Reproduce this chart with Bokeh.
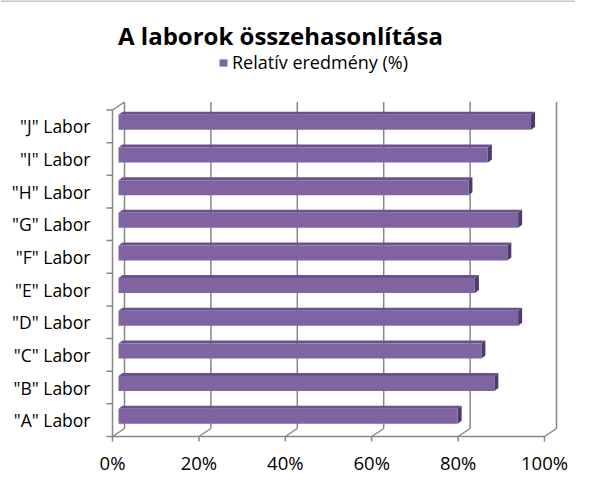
import numpy as np
from bokeh.plotting import figure
from bokeh.models import Range1d, Label, Legend, LegendItem
from bokeh.core.properties import value
from bokeh.embed import file_html
from bokeh.resources import INLINE

# ---------------- data ----------------
labs = ['"A" Labor', '"B" Labor', '"C" Labor', '"D" Labor', '"E" Labor',
        '"F" Labor', '"G" Labor', '"H" Labor', '"I" Labor', '"J" Labor']
vals = [78.5, 87.0, 84.0, 92.5, 82.5, 90.0, 92.5, 81.0, 85.5, 95.5]
x_ticks = [0, 20, 40, 60, 80, 100]
x_tick_labels = ["0%", "20%", "40%", "60%", "80%", "100%"]
title_text = "A laborok összehasonlítása"
series_name = "Relatív eredmény (%)"

# ---------------- layout ----------------
W, H = 575, 482
PX = 4.32          # px per percent
X0 = 112           # canvas px of front 0%
BAND = 32.65       # px per category band
Y0 = 46            # canvas px (from bottom) of front floor
FONT = "Open Sans"
GRAY = "#868686"
BAR = "#8064A2"
BAR_TOP = "#6A5290"
BAR_SIDE = "#4B3A6A"

DX, DY = 12 / PX, 8 / BAND          # full wall depth
MDX, MDY = 6 / PX, 4 / BAND         # bar depth position
CDX, CDY = 4 / PX, 3 / BAND         # bar thickness in depth
HALF = 7.5 / BAND

XMIN, XMAX = -X0 / PX, (W - X0) / PX
YMIN, YMAX = -Y0 / BAND, (H - Y0) / BAND

p = figure(width=W, height=H, output_backend="svg", toolbar_location=None,
           x_range=Range1d(XMIN, XMAX), y_range=Range1d(YMIN, YMAX),
           x_axis_type=None, y_axis_type=None, min_border=0)
p.grid.visible = False
p.outline_line_color = None
p.background_fill_color = "white"

n = len(labs)
ncat = np.arange(n)
xt = np.array(x_ticks, dtype=float)

# chart-area top border
p.segment(x0=[XMIN], y0=[YMAX - 0.5 / BAND], x1=[XMAX], y1=[YMAX - 0.5 / BAND],
          line_color="#8a8a8a", line_width=1.2)

# back wall verticals
p.segment(x0=xt + DX, y0=np.full(len(xt), DY), x1=xt + DX, y1=np.full(len(xt), n + DY),
          line_color=GRAY, line_width=1.5)
# floor diagonals
p.segment(x0=xt, y0=np.zeros(len(xt)), x1=xt + DX, y1=np.full(len(xt), DY),
          line_color=GRAY, line_width=1.5)
# front floor edge
p.segment(x0=[xt[0]], y0=[0], x1=[xt[-1]], y1=[0], line_color=GRAY, line_width=1.5)
# bottom ticks
p.segment(x0=xt, y0=np.zeros(len(xt)), x1=xt, y1=np.full(len(xt), -5 / BAND),
          line_color=GRAY, line_width=1.5)
# left axis
p.segment(x0=[0], y0=[0], x1=[0], y1=[n], line_color=GRAY, line_width=1.5)
p.segment(x0=[0], y0=[n], x1=[DX], y1=[n + DY], line_color=GRAY, line_width=1.5)
bnd = np.arange(n + 1)
p.segment(x0=np.zeros(n + 1), y0=bnd, x1=np.full(n + 1, -6 / PX), y1=bnd,
          line_color=GRAY, line_width=1.5)

# bars
v = np.array(vals)
yc = ncat + 0.5 + MDY
bot = yc - HALF
top = yc + HALF
left = np.full(n, MDX)
right = v + MDX

top_xs = [[l, r, r + CDX, l + CDX] for l, r in zip(left, right)]
top_ys = [[t, t, t + CDY, t + CDY] for t in top]
side_xs = [[r, r + CDX, r + CDX, r] for r in right]
side_ys = [[b, b + CDY, t + CDY, t] for b, t in zip(bot, top)]

p.patches(xs=top_xs, ys=top_ys, fill_color=BAR_TOP, line_color=None)
p.patches(xs=side_xs, ys=side_ys, fill_color=BAR_SIDE, line_color=None)
front = p.quad(left=left, right=right, bottom=bot, top=top, fill_color=BAR, line_color=None)

# category labels
p.text(x=np.full(n, (90 - 112) / PX), y=ncat + 0.5, text=labs,
       text_align="right", text_baseline="middle", text_font=value(FONT),
       text_font_size="17.5px", text_color="#000000")
# x labels
p.text(x=xt, y=np.full(len(xt), -25.5 / BAND), text=x_tick_labels,
       text_align="center", text_baseline="middle", text_font=value(FONT),
       text_font_size="18.5px", text_color="#000000")

# title
p.add_layout(Label(x=280, y=H - 35, x_units="screen", y_units="screen", text=title_text,
                   text_align="center", text_baseline="middle", text_font=FONT,
                   text_font_style="bold", text_font_size="24px", text_color="#000000"))

legend = Legend(items=[LegendItem(label=series_name, renderers=[front])],
                location=(218, H - 74), border_line_color=None, background_fill_alpha=0,
                padding=0, margin=0, glyph_width=10, glyph_height=9, label_standoff=4,
                label_text_font=FONT, label_text_font_size="18px", label_height=12,
                label_text_color="#000000", spacing=0)
p.add_layout(legend)

open("out.html", "w").write(file_html(p, INLINE))
